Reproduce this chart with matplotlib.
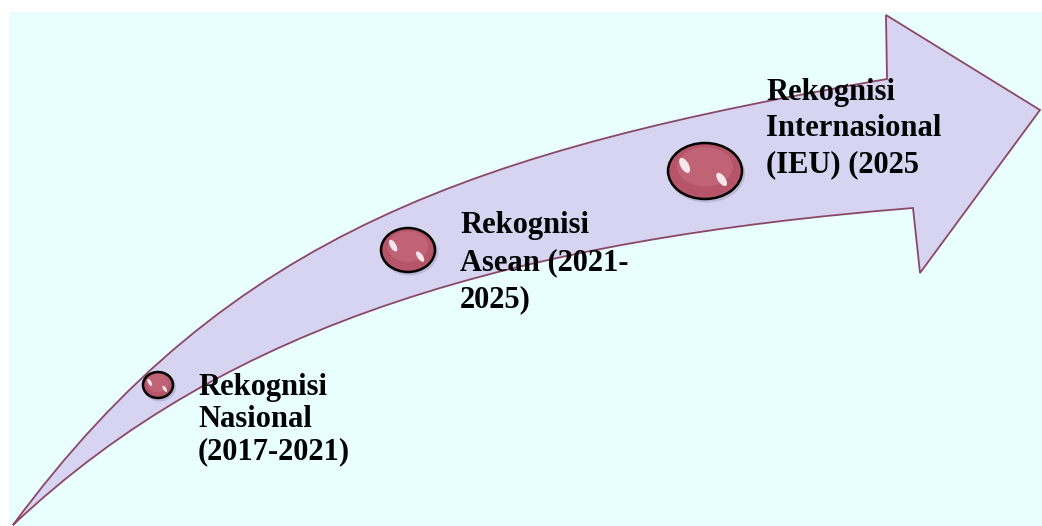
import matplotlib
matplotlib.use("Agg")
import matplotlib.pyplot as plt
from matplotlib.path import Path
from matplotlib.patches import PathPatch, Ellipse, Rectangle

W, H = 1042, 526

# arrow outline (pixel coords, y down): upper edge bezier, head, lower edge bezier
upper_edge = [(13, 525), (230, 230), (480, 150), (887, 79)]
head = [(886, 15), (1040, 110), (920, 273), (913, 208)]
lower_edge = [(520, 240), (230, 320), (13, 525)]

# milestone bubbles
bubble_x = [158, 408, 705]
bubble_y = [385, 250, 171]
bubble_rx = [15, 27, 37]
bubble_ry = [13, 22, 28]

# labels: lines per milestone
label_x = [198, 460, 766]
label_y = [395, 233, 100]
label_lines = [
    ["Rekognisi", "Nasional", "(2017-2021)"],
    ["Rekognisi", "Asean (2021-", "2025)"],
    ["Rekognisi", "Internasional", "(IEU) (2025"],
]
line_gap = [32, 37, 36]

bg_color = "#e9ffff"
arrow_fill = "#d6d4f1"
arrow_edge = "#8c4766"
bubble_color = "#b65569"

fig = plt.figure(figsize=(W / 100, H / 100), dpi=100)
ax = fig.add_axes([0, 0, 1, 1])
ax.set_xlim(0, W)
ax.set_ylim(H, 0)
ax.axis("off")

ax.add_patch(Rectangle((9, 12), W - 9, H - 12, facecolor=bg_color, edgecolor="none"))

verts = list(upper_edge) + list(head) + list(lower_edge)
codes = ([Path.MOVETO] + [Path.CURVE4] * 3 + [Path.LINETO] * 4 + [Path.CURVE4] * 3)
arrow = PathPatch(Path(verts, codes), facecolor=arrow_fill, edgecolor=arrow_edge, lw=1.3)
ax.add_patch(arrow)

for cx, cy, rx, ry in zip(bubble_x, bubble_y, bubble_rx, bubble_ry):
    # soft shadow
    ax.add_patch(Ellipse((cx + 1.5, cy + 2), 2 * rx + 3, 2 * ry + 3,
                         facecolor="#9a94b8", edgecolor="none", alpha=0.45))
    ax.add_patch(Ellipse((cx, cy), 2 * rx, 2 * ry, facecolor=bubble_color,
                         edgecolor="black", lw=1.8))
    ax.add_patch(Ellipse((cx, cy - ry * 0.15), 1.5 * rx, 1.4 * ry,
                         facecolor="#c86e80", edgecolor="none", alpha=0.6))
    # glossy highlights
    ax.add_patch(Ellipse((cx - rx * 0.55, cy - ry * 0.2), rx * 0.22, ry * 0.6, angle=-30,
                         facecolor="white", edgecolor="none", alpha=0.85))
    ax.add_patch(Ellipse((cx + rx * 0.45, cy + ry * 0.3), rx * 0.2, ry * 0.55, angle=-35,
                         facecolor="white", edgecolor="none", alpha=0.85))

for lx, ly, lines, gap in zip(label_x, label_y, label_lines, line_gap):
    for i, txt in enumerate(lines):
        ax.text(lx, ly + i * gap, txt, fontsize=22, fontweight="bold",
                family=["Liberation Serif", "DejaVu Serif"], color="black",
                ha="left", va="baseline")

fig.savefig("out.png", dpi=100, facecolor="white")
